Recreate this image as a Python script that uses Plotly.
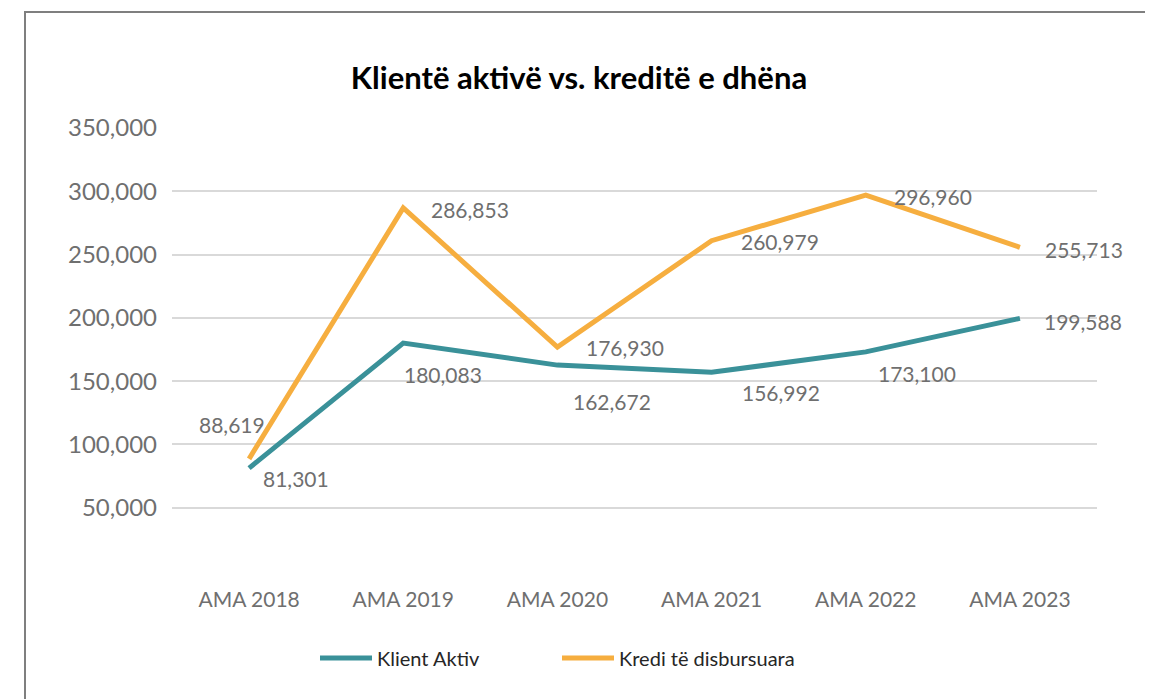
import plotly.graph_objects as go

categories = ["AMA 2018", "AMA 2019", "AMA 2020", "AMA 2021", "AMA 2022", "AMA 2023"]
klient_aktiv = [81301, 180083, 162672, 156992, 173100, 199588]
kredi = [88619, 286853, 176930, 260979, 296960, 255713]
y_ticks = [0, 50000, 100000, 150000, 200000, 250000, 300000, 350000]
y_ticktext = ["" if v == 0 else f"{v:,}" for v in y_ticks]

# label offsets (px) per point
klient_off = [(47, -10), (40, -31), (55, -36), (69, -20), (51, -22), (63, -3)]
kredi_off = [(-17, 34), (67, -2), (68, 0), (68, -1), (67, -1), (64, -2)]

TEAL = "#3A9199"
ORANGE = "#F6AE3F"
FONT = "Lato"
GRAY = "#6f6f6f"

# page has an 8px body margin; figure coordinates are page - 8
W, H = 1145, 691
L, T, R, B = 164, 120, 56, 128

fig = go.Figure()
fig.add_trace(go.Scatter(x=categories, y=klient_aktiv, mode="lines", name="Klient Aktiv",
                         line=dict(color=TEAL, width=5), legend="legend"))
fig.add_trace(go.Scatter(x=categories, y=kredi, mode="lines", name="Kredi të disbursuara",
                         line=dict(color=ORANGE, width=5), legend="legend2"))

ann = []
for c, v, (dx, dy) in zip(categories, klient_aktiv, klient_off):
    ann.append(dict(x=c, y=v, text=f"{v:,}", showarrow=False, xshift=dx, yshift=dy,
                    font=dict(family=FONT, size=21, color=GRAY)))
for c, v, (dx, dy) in zip(categories, kredi, kredi_off):
    ann.append(dict(x=c, y=v, text=f"{v:,}", showarrow=False, xshift=dx, yshift=dy,
                    font=dict(family=FONT, size=21, color=GRAY)))

leg_common = dict(orientation="h", xref="container", yref="container", xanchor="left",
                  yanchor="middle", y=1 - 650 / H, itemwidth=52,
                  font=dict(family=FONT, size=20, color="#262626"), bgcolor="rgba(0,0,0,0)")

fig.update_layout(
    width=W, height=H,
    margin=dict(l=L, r=R, t=T, b=B),
    paper_bgcolor="white", plot_bgcolor="white",
    title=dict(text="<b>Klientë aktivë vs. kreditë e dhëna</b>", x=571 / W, xref="container",
               y=1 - 70 / H, yref="container", yanchor="middle", xanchor="center",
               font=dict(family=FONT, size=31, color="#000000")),
    xaxis=dict(type="category", range=[-0.5, 5.5], showgrid=False, showline=False, zeroline=False,
               ticks="", tickfont=dict(family=FONT, size=21, color=GRAY), ticklabelstandoff=14),
    yaxis=dict(range=[0, 350000], tickvals=y_ticks, ticktext=y_ticktext, showgrid=True,
               gridcolor="#d9d9d9", gridwidth=1.5, zeroline=False, showline=False, ticks="",
               tickfont=dict(family=FONT, size=24, color=GRAY), ticklabelstandoff=14),
    legend=dict(x=(315 - 8) / W, **leg_common),
    legend2=dict(x=(557 - 8) / W, **leg_common),
    annotations=ann,
    shapes=[dict(type="rect", xref="paper", yref="paper", x0=(17 - L) / 925, x1=2,
                 y0=-1, y1=1 + (T - 4) / 443, line=dict(color="#7f7f7f", width=2),
                 layer="below")],
    showlegend=True,
)

fig.write_html("out.html")
